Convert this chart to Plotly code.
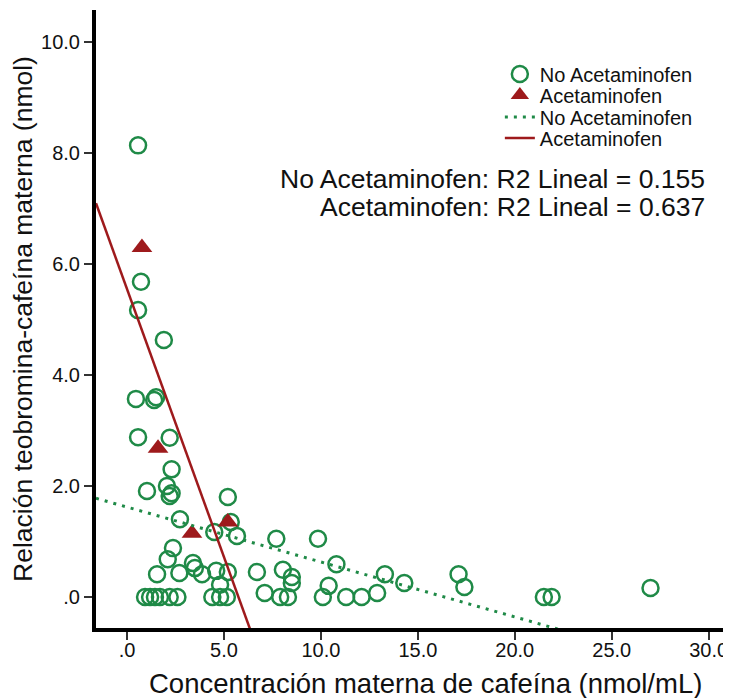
import plotly.graph_objects as go

# ---- data ----
no_acet_x = [0.57, 0.72, 0.57, 1.9, 0.46, 1.4, 1.5, 0.57, 2.2, 2.3, 1.03, 2.06, 2.2, 2.3,
             5.2, 2.73, 5.35, 4.5, 5.67, 7.7, 9.85, 10.8, 13.3, 2.37, 2.1, 3.4, 3.5, 3.87,
             1.55, 2.7, 4.6, 5.2, 4.8, 6.7, 8.04, 8.5, 8.5, 10.4,
             0.93, 1.19, 1.44, 1.7, 2.2, 2.6, 4.4, 4.8, 5.15, 7.1, 7.9, 8.3, 10.1,
             11.3, 12.1, 12.9, 14.3, 17.1, 17.4, 21.5, 21.9, 27.0]
no_acet_y = [8.14, 5.68, 5.17, 4.63, 3.57, 3.55, 3.6, 2.88, 2.87, 2.3, 1.91, 2.0, 1.82, 1.87,
             1.8, 1.4, 1.35, 1.17, 1.1, 1.05, 1.05, 0.59, 0.41, 0.88, 0.68, 0.61, 0.52, 0.41,
             0.41, 0.43, 0.47, 0.45, 0.22, 0.45, 0.49, 0.36, 0.25, 0.2,
             0.0, 0.0, 0.0, 0.0, 0.0, 0.0, 0.0, 0.0, 0.0, 0.07, 0.0, 0.0, 0.0,
             0.0, 0.0, 0.07, 0.25, 0.41, 0.18, 0.0, 0.0, 0.16]

acet_x = [0.77, 1.6, 3.35, 5.2]
acet_y = [6.3, 2.68, 1.15, 1.35]

# linear fits (intercept, slope) as shown in the reference
fit_no_acet = [1.62, -0.099]
fit_acet = [5.55, -0.966]

r2_labels = ["No Acetaminofen: R2 Lineal = 0.155", "Acetaminofen: R2 Lineal = 0.637"]

x_tick_vals = [0, 5, 10, 15, 20, 25, 30]
x_tick_text = [".0", "5.0", "10.0", "15.0", "20.0", "25.0", "30.0"]
y_tick_vals = [0, 2, 4, 6, 8, 10]
y_tick_text = [".0", "2.0", "4.0", "6.0", "8.0", "10.0"]

x_range = [-1.6, 31.1]
y_range = [-0.56, 10.58]

GREEN = "#1f8a47"
RED = "#9e1a1c"
FONT = "Liberation Sans, Arial, sans-serif"
TXT = "#111111"

fit_x = [x_range[0], x_range[1]]

fig = go.Figure()
fig.add_trace(go.Scatter(
    x=no_acet_x, y=no_acet_y, mode="markers", name="No Acetaminofen", legend="legend",
    marker=dict(symbol="circle-open", size=16, color=GREEN, line=dict(width=2.5, color=GREEN)),
    cliponaxis=False,
))
fig.add_trace(go.Scatter(
    x=acet_x, y=acet_y, mode="markers", name="Acetaminofen", legend="legend2",
    marker=dict(symbol="triangle-up", size=18, color=RED, line=dict(width=0)),
))
fig.add_trace(go.Scatter(
    x=fit_x, y=[fit_no_acet[0] + fit_no_acet[1] * v for v in fit_x], mode="lines",
    name="No Acetaminofen", legend="legend3", line=dict(color=GREEN, width=3, dash="3px,6px"),
))
fig.add_trace(go.Scatter(
    x=fit_x, y=[fit_acet[0] + fit_acet[1] * v for v in fit_x], mode="lines",
    name="Acetaminofen", legend="legend4", line=dict(color=RED, width=2.5),
))

for label, ypos in zip(r2_labels, [0.7265, 0.6812]):
    fig.add_annotation(
        xref="paper", yref="paper", x=0.964, y=ypos, xanchor="right", yanchor="middle",
        text=label, showarrow=False, font=dict(size=26.5, color=TXT, family=FONT),
    )

fig.add_annotation(
    xref="paper", yref="paper", x=0.52, y=-0.089, xanchor="center", yanchor="middle",
    text="Concentración materna de cafeína (nmol/mL)", showarrow=False,
    font=dict(size=27.5, color=TXT, family=FONT),
)

leg_common = dict(x=0.637, xanchor="left", yanchor="middle", font=dict(size=20, color=TXT, family=FONT),
                  bgcolor="rgba(0,0,0,0)", itemwidth=30, borderwidth=0)

fig.update_layout(
    width=723, height=690,
    margin=dict(l=88, r=1, t=2, b=70),
    paper_bgcolor="white", plot_bgcolor="white",
    font=dict(family=FONT, color=TXT),
    showlegend=True,
    legend=dict(y=0.8964, **leg_common),
    legend2=dict(y=0.8625, **leg_common),
    legend3=dict(y=0.8269, **leg_common),
    legend4=dict(y=0.7929, **leg_common),
    xaxis=dict(range=x_range, tickvals=x_tick_vals, ticktext=x_tick_text,
               showgrid=False, zeroline=False, showline=True, linewidth=4, linecolor="black",
               ticks="outside", ticklen=8, tickwidth=2, tickcolor="#333",
               ticklabelstandoff=-7,
               tickfont=dict(size=20, color=TXT)),
    yaxis=dict(range=y_range, tickvals=y_tick_vals, ticktext=y_tick_text,
               showgrid=False, zeroline=False, showline=True, linewidth=4, linecolor="black",
               ticks="outside", ticklen=8, tickwidth=2, tickcolor="#333",
               tickfont=dict(size=20, color=TXT),
               title=dict(text="Relación teobromina-cafeína materna (nmol)", font=dict(size=26.5), standoff=6)),
)

fig.write_html("out.html")
